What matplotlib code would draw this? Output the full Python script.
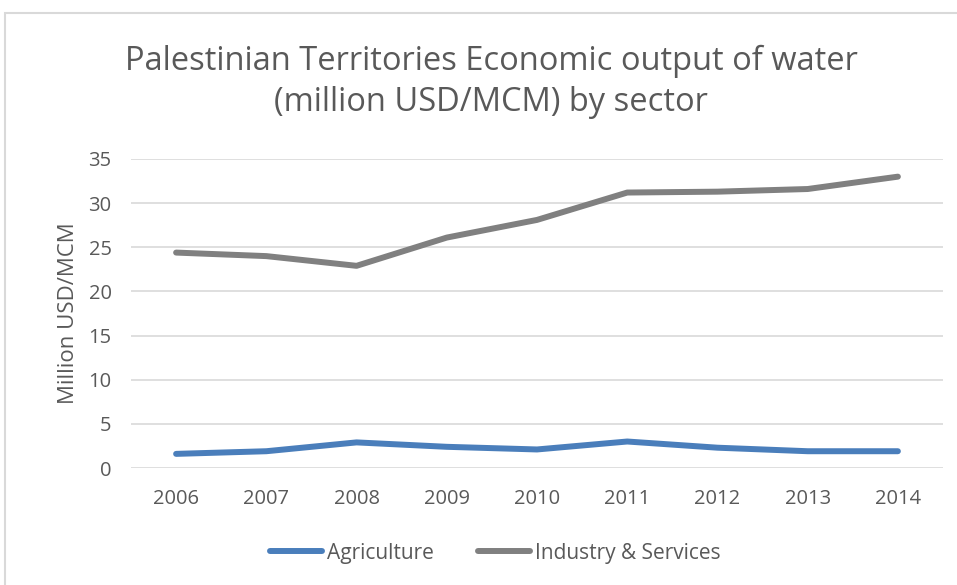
import matplotlib.pyplot as plt
from matplotlib.patches import Rectangle

years = [2006, 2007, 2008, 2009, 2010, 2011, 2012, 2013, 2014]
agriculture = [1.6, 1.9, 2.9, 2.4, 2.1, 3.0, 2.3, 1.9, 1.9]
industry_services = [24.4, 24.0, 22.9, 26.1, 28.1, 31.2, 31.3, 31.6, 33.0]
y_ticks = [0, 5, 10, 15, 20, 25, 30, 35]

plt.rcParams['font.family'] = ['Open Sans', 'DejaVu Sans']
text_color = '#595959'

fig = plt.figure(figsize=(9.57, 5.85), dpi=100)

# chart frame (top and left edges visible)
fig.patches.append(Rectangle((5 / 957, -0.1), 1.2, 1 - 13 / 585 + 0.1,
                             transform=fig.transFigure, fill=False,
                             edgecolor='#d9d9d9', linewidth=1.5))

ax = fig.add_axes([131 / 957, 1 - 468 / 585, 812 / 957, 309 / 585])

ax.plot(years, agriculture, color='#4a7ebb', linewidth=4.3,
        solid_capstyle='round', solid_joinstyle='round', label='Agriculture')
ax.plot(years, industry_services, color='#808080', linewidth=4.3,
        solid_capstyle='round', solid_joinstyle='round', label='Industry & Services')

ax.set_xlim(2005.5, 2014.5)
ax.set_ylim(0, 35)
ax.set_xticks(years)
ax.set_yticks(y_ticks)
ax.grid(axis='y', color='#d9d9d9', linewidth=1.2)
ax.set_axisbelow(True)
for s in ax.spines.values():
    s.set_visible(False)
ax.tick_params(length=0, labelsize=14.5, colors=text_color)
ax.tick_params(axis='x', pad=15)
ax.tick_params(axis='y', pad=14)

ax.set_ylabel('Million USD/MCM', fontsize=16, color=text_color, labelpad=7)

fig.text(491 / 957, 1 - 82 / 585,
         'Palestinian Territories Economic output of water\n(million USD/MCM) by sector',
         ha='center', va='center', fontsize=23.5, color=text_color, linespacing=1.3)

fig.legend(loc='center', bbox_to_anchor=(495 / 957, 1 - 553 / 585), ncol=2,
           frameon=False, fontsize=15, labelcolor=text_color,
           handlelength=2.5, handletextpad=0.25, columnspacing=2.1)

fig.savefig('out.png', dpi=100)
